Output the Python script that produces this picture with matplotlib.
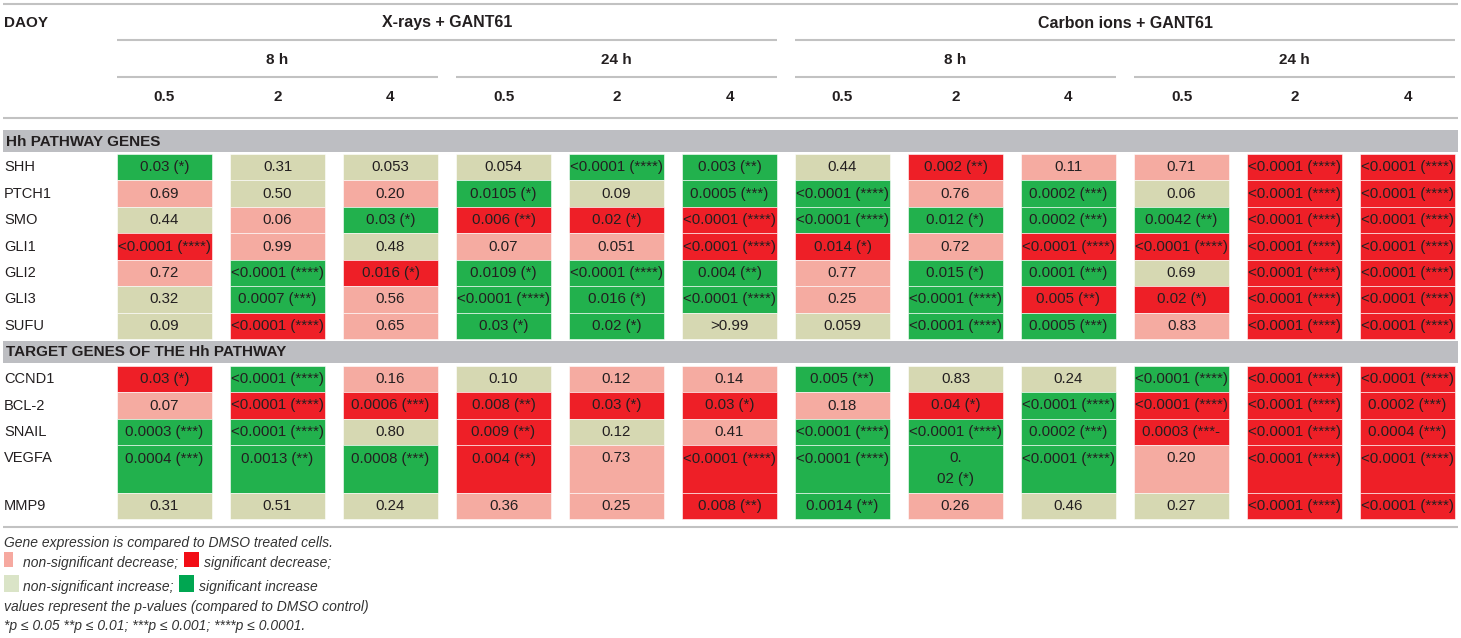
import matplotlib
matplotlib.use("Agg")
import matplotlib.pyplot as plt
from matplotlib.patches import Rectangle

# ---------------- data ----------------
cell_line = "DAOY"
treatments = ["X-rays + GANT61", "Carbon ions + GANT61"]
times = ["8 h", "24 h"]
doses = ["0.5", "2", "4"]
section_titles = ["Hh PATHWAY GENES", "TARGET GENES OF THE Hh PATHWAY"]
hh_genes = ["SHH", "PTCH1", "SMO", "GLI1", "GLI2", "GLI3", "SUFU"]
target_genes = ["CCND1", "BCL-2", "SNAIL", "VEGFA", "MMP9"]

Q = "<0.0001 (****)"
hh_pvalues = [
    ["0.03 (*)", "0.31", "0.053", "0.054", Q, "0.003 (**)", "0.44", "0.002 (**)", "0.11", "0.71", Q, Q],
    ["0.69", "0.50", "0.20", "0.0105 (*)", "0.09", "0.0005 (***)", Q, "0.76", "0.0002 (***)", "0.06", Q, Q],
    ["0.44", "0.06", "0.03 (*)", "0.006 (**)", "0.02 (*)", Q, Q, "0.012 (*)", "0.0002 (***)", "0.0042 (**)", Q, Q],
    [Q, "0.99", "0.48", "0.07", "0.051", Q, "0.014 (*)", "0.72", Q, Q, Q, Q],
    ["0.72", Q, "0.016 (*)", "0.0109 (*)", Q, "0.004 (**)", "0.77", "0.015 (*)", "0.0001 (***)", "0.69", Q, Q],
    ["0.32", "0.0007 (***)", "0.56", Q, "0.016 (*)", Q, "0.25", Q, "0.005 (**)", "0.02 (*)", Q, Q],
    ["0.09", Q, "0.65", "0.03 (*)", "0.02 (*)", ">0.99", "0.059", Q, "0.0005 (***)", "0.83", Q, Q],
]
# P = non-significant decrease, R = significant decrease,
# B = non-significant increase, G = significant increase
hh_status = [
    "GBBBGGBRPPRR",
    "PBPGBGGPGBRR",
    "BPGRRRGGGGRR",
    "RPBPPRRPRRRR",
    "PGRGGGPGGBRR",
    "BGPGGGPGRRRR",
    "BRPGGBBGGPRR",
]
target_pvalues = [
    ["0.03 (*)", Q, "0.16", "0.10", "0.12", "0.14", "0.005 (**)", "0.83", "0.24", Q, Q, Q],
    ["0.07", Q, "0.0006 (***)", "0.008 (**)", "0.03 (*)", "0.03 (*)", "0.18", "0.04 (*)", Q, Q, Q, "0.0002 (***)"],
    ["0.0003 (***)", Q, "0.80", "0.009 (**)", "0.12", "0.41", Q, Q, "0.0002 (***)", "0.0003 (***-", Q, "0.0004 (***)"],
    ["0.0004 (***)", "0.0013 (**)", "0.0008 (***)", "0.004 (**)", "0.73", Q, Q, "0.\n02 (*)", Q, "0.20", Q, Q],
    ["0.31", "0.51", "0.24", "0.36", "0.25", "0.008 (**)", "0.0014 (**)", "0.26", "0.46", "0.27", Q, Q],
]
target_status = [
    "RGPBPPGBBGRR",
    "PRRRRRPRGRRR",
    "GGBRBPGGGRRR",
    "GGGRPRGGGPRR",
    "BBBPPRGPBBRR",
]
legend_items = [("P", "non-significant decrease;"), ("R", "significant decrease;"),
                ("B", "non-significant increase;"), ("G", "significant increase")]
notes_top = "Gene expression is compared to DMSO treated cells."
notes_bottom = ["values represent the p-values (compared to DMSO control)",
                "*p \u2264 0.05 **p \u2264 0.01; ***p \u2264 0.001; ****p \u2264 0.0001."]

# ---------------- style ----------------
cell_colors = {"P": "#F5ABA1", "R": "#EE1F27", "B": "#D6D8B2", "G": "#22B14D"}
legend_colors = {"P": "#F6A9A0", "R": "#F20D16", "B": "#DAE4C7", "G": "#00A651"}
rule_color = "#C2C2C2"
band_color = "#BDBEC2"
txt = "#231F20"
FONT = ["Liberation Sans", "DejaVu Sans"]
plt.rcParams["font.family"] = FONT

W, H = 1461, 638
fig = plt.figure(figsize=(W / 100, H / 100), dpi=100)
ax = fig.add_axes([0, 0, 1, 1])
ax.set_xlim(0, W)
ax.set_ylim(H, 0)
ax.axis("off")

x_first = 164.5
pitch = 113.0
cw = 95.5
centers = [x_first + i * pitch for i in range(12)]
left_edge, right_edge = 3, 1458

def hline(x0, x1, y, lw=1.5):
    ax.plot([x0, x1], [y, y], color=rule_color, lw=lw, solid_capstyle="butt")

# header
hline(left_edge, right_edge, 3.5)
ax.text(4, 23, cell_line, ha="left", va="center", fontsize=11, fontweight="bold", color=txt)
for t, tr in enumerate(treatments):
    c0 = centers[t * 6] - cw / 2
    c1 = centers[t * 6 + 5] + cw / 2
    ax.text((c0 + c1) / 2, 23, tr, ha="center", va="center", fontsize=11.5, fontweight="bold", color=txt)
    hline(c0, c1, 40)
    for k, tm in enumerate(times):
        d0 = centers[t * 6 + k * 3] - cw / 2
        d1 = centers[t * 6 + k * 3 + 2] + cw / 2
        ax.text((d0 + d1) / 2, 60, tm, ha="center", va="center", fontsize=11, fontweight="bold", color=txt)
        hline(d0, d1, 77)
        for j, d in enumerate(doses):
            ax.text(centers[t * 6 + k * 3 + j], 97, d, ha="center", va="center",
                    fontsize=11, fontweight="bold", color=txt)
hline(left_edge, right_edge, 118)

def band(y0, y1, title):
    ax.add_patch(Rectangle((left_edge, y0), right_edge - left_edge, y1 - y0, color=band_color, lw=0))
    ax.text(6, (y0 + y1) / 2 + 0.5, title, ha="left", va="center", fontsize=11, fontweight="bold", color=txt)

def rows(genes, pvals, status, tops, heights):
    for r, g in enumerate(genes):
        top, h = tops[r], heights[r]
        ax.text(4, top + 13.3, g, ha="left", va="center", fontsize=10.5, color=txt)
        for c in range(12):
            col = cell_colors[status[r][c]]
            ax.add_patch(Rectangle((centers[c] - cw / 2, top), cw, h, facecolor=col,
                                   edgecolor="#FFFFFF", lw=0.4, alpha=1))
            for i, line in enumerate(pvals[r][c].split("\n")):
                ax.text(centers[c], top + 13.3 + i * 21, line, ha="center", va="center",
                        fontsize=10.8, color=txt)

band(130, 152, section_titles[0])
rh = (339 - 154) / 7
rows(hh_genes, hh_pvalues, hh_status, [154 + i * rh for i in range(7)], [rh] * 7)

band(341, 363, section_titles[1])
t_heights = [26.2, 26.4, 26.6, 47.5, 26.0]
t_tops = [366]
for hgt in t_heights[:-1]:
    t_tops.append(t_tops[-1] + hgt)
rows(target_genes, target_pvalues, target_status, t_tops, t_heights)

hline(left_edge, right_edge, 527)

# notes / legend
ltxt = "#333333"
ax.text(4, 543.5, notes_top, ha="left", va="center", fontsize=10, style="italic", color=ltxt)
sw = [(3.5, 552, 9.5, 15), (184, 552, 15, 15), (3.5, 575, 15, 17), (179, 575, 15, 17)]
tx = [23, 204, 23, 199]
ty = [563, 563, 587, 587]
for (code, label), (sx, sy, swd, sh), x, y in zip(legend_items, sw, tx, ty):
    ax.add_patch(Rectangle((sx, sy), swd, sh, color=legend_colors[code], lw=0))
    ax.text(x, y, label, ha="left", va="center", fontsize=10, style="italic", color=ltxt)
ax.text(4, 607, notes_bottom[0], ha="left", va="center", fontsize=10, style="italic", color=ltxt)
ax.text(4, 626, notes_bottom[1], ha="left", va="center", fontsize=10, style="italic", color=ltxt)

fig.savefig("out.png", dpi=100)
